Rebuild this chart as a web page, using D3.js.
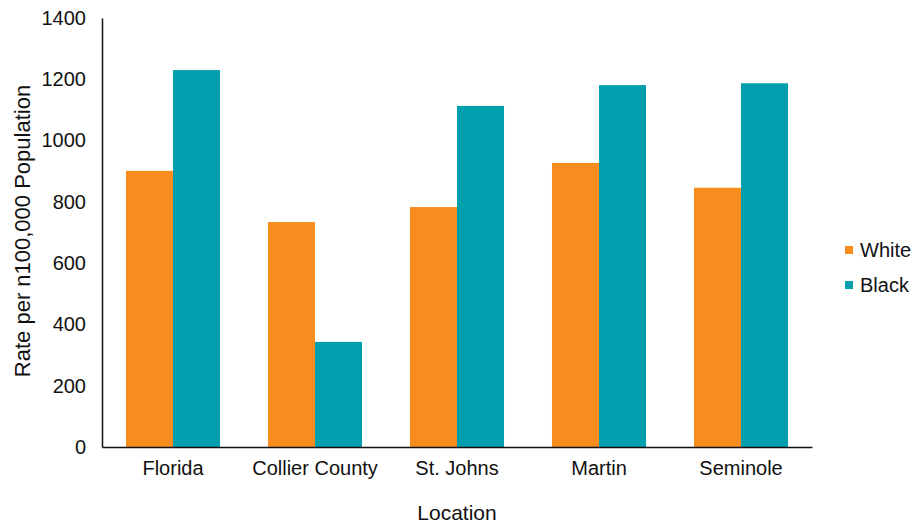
<!DOCTYPE html>
<html>
<head>
<meta charset="utf-8">
<script src="https://cdn.jsdelivr.net/npm/d3@7"></script>
<style>
  html, body { margin: 0; padding: 0; background: #fff; }
  svg { display: block; font-family: "Liberation Sans", Arial, sans-serif; }
</style>
</head>
<body>
<svg id="chart" width="914" height="526"></svg>
<script>
// Rate per 100,000 population by location and race
const locations = ["Florida", "Collier County", "St. Johns", "Martin", "Seminole"];
const seriesNames = ["White", "Black"];
const whiteValues = [901, 734, 783, 927, 846];
const blackValues = [1230, 343, 1113, 1181, 1187];
const yTicks = [0, 200, 400, 600, 800, 1000, 1200, 1400];
const colors = { White: "#F68D1E", Black: "#009FAE" };

const rows = locations.map((loc, i) => ({ loc, White: whiteValues[i], Black: blackValues[i] }));

const svg = d3.select("#chart");
const plotLeft = 102, plotRight = 812, plotTop = 18, plotBottom = 447;
const FONT = "Liberation Sans, Arial, sans-serif";

const x = d3.scaleBand().domain(locations).range([plotLeft, plotRight]).padding(0);
const xInner = d3.scaleBand().domain(seriesNames).range([0, x.bandwidth()]).paddingInner(0).paddingOuter(0.51);
const y = d3.scaleLinear().domain([0, 1400]).range([plotBottom, plotTop]);

// bars
const groups = svg.append("g").selectAll("g").data(rows).join("g")
  .attr("transform", d => `translate(${x(d.loc)},0)`);
groups.selectAll("rect")
  .data(d => seriesNames.map(s => ({ s, v: d[s] })))
  .join("rect")
  .attr("x", d => xInner(d.s))
  .attr("width", xInner.bandwidth())
  .attr("y", d => y(d.v))
  .attr("height", d => plotBottom - y(d.v))
  .attr("fill", d => colors[d.s]);

// y axis
const yAxis = svg.append("g").attr("transform", `translate(${plotLeft},0)`)
  .call(d3.axisLeft(y).tickValues(yTicks).tickSize(0).tickPadding(16).tickFormat(d3.format("d")));
yAxis.select(".domain").attr("stroke", "#111").attr("stroke-width", 1.5);
yAxis.selectAll("text").attr("font-size", 20).attr("fill", "#111").attr("font-family", FONT);

// x axis
const xAxis = svg.append("g").attr("transform", `translate(0,${plotBottom})`)
  .call(d3.axisBottom(x).tickSize(0).tickPadding(14));
xAxis.select(".domain").attr("stroke", "#111").attr("stroke-width", 1.5);
xAxis.selectAll("text").attr("font-size", 20).attr("fill", "#111").attr("font-family", FONT);

// axis titles
svg.append("text")
  .attr("x", (plotLeft + plotRight) / 2).attr("y", 520)
  .attr("text-anchor", "middle").attr("font-size", 21).attr("fill", "#111")
  .text("Location");
svg.append("text")
  .attr("transform", `translate(30,231) rotate(-90)`)
  .attr("text-anchor", "middle").attr("font-size", 22).attr("fill", "#111")
  .text("Rate per n100,000 Population");

// legend
const legend = svg.append("g").selectAll("g").data(seriesNames).join("g")
  .attr("transform", (d, i) => `translate(845,${250 + i * 35})`);
legend.append("rect").attr("x", 0).attr("y", -4).attr("width", 8).attr("height", 8)
  .attr("fill", d => colors[d]);
legend.append("text").attr("x", 15).attr("y", 0).attr("dy", "0.35em")
  .attr("font-size", 20).attr("fill", "#111").text(d => d);
</script>
</body>
</html>
